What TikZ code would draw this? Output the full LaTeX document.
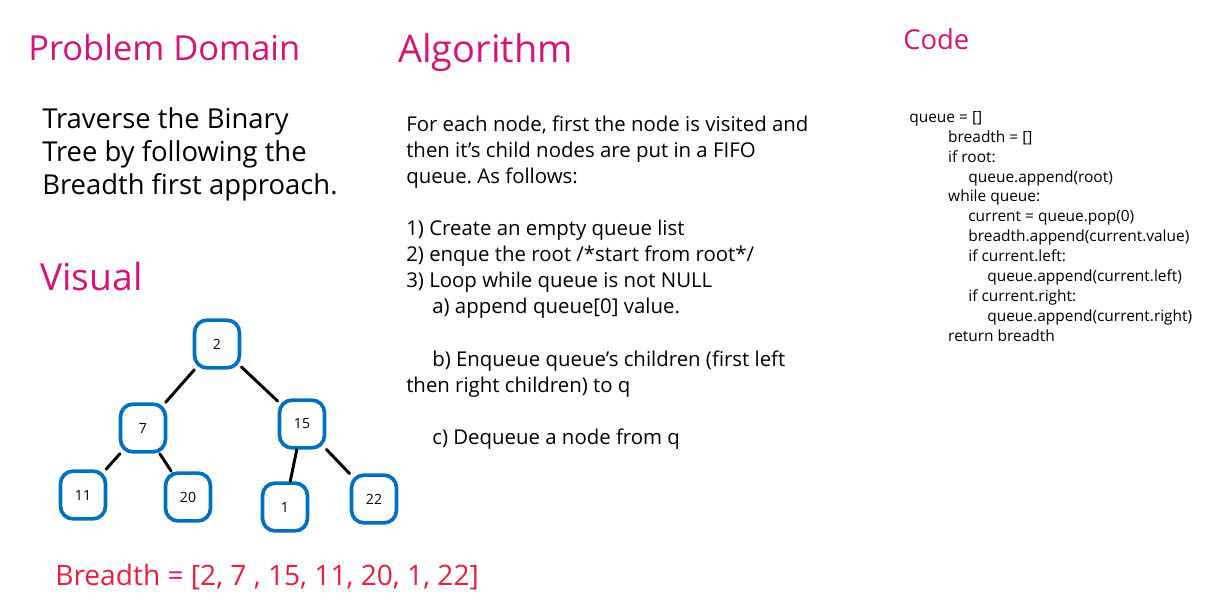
\documentclass[tikz,border=0pt]{standalone}
\usepackage{fontspec}
\setmainfont{Open Sans}
\frenchspacing
\definecolor{titlepink}{RGB}{214,20,120}
\definecolor{treeblue}{RGB}{0,112,192}
\definecolor{listred}{RGB}{232,30,60}
\tikzset{
  heading/.style={anchor=base west,inner sep=0pt,text=titlepink},
  bodytext/.style={anchor=north west,inner sep=0pt,align=left},
  treenode/.style={draw=treeblue,line width=2.6pt,rounded corners=9pt,minimum width=32pt,minimum height=34pt,inner sep=0pt,font=\fontsize{10}{12}\selectfont},
  treeedge/.style={line width=2.1pt,line cap=round}
}
\begin{document}
	\begin{tikzpicture}[x=0.025cm,y=-0.025cm]
		\useasboundingbox (0,0) rectangle (1214,605);
		% headings
		\node[heading,font=\fontsize{24.5}{28}\selectfont] (probtitle) at (28,60) {Problem Domain};
		\node[heading,font=\fontsize{27}{30}\selectfont] (algotitle) at (398,62) {Algorithm};
		\node[heading,font=\fontsize{19.5}{24}\selectfont] (codetitle) at (903,49) {Code};
		\node[heading,font=\fontsize{26.5}{30}\selectfont] (vistitle) at (40,290) {Visual};
		% problem domain
		\node[bodytext,font=\fontsize{19.5}{23.5}\selectfont] (probtext) at (42,107)
		{Traverse the Binary\\Tree by following the\\Breadth first approach.};
		% algorithm
		\node[bodytext,font=\fontsize{14.5}{18.5}\selectfont] (algotext) at (406,116)
		{For each node, first the node is visited and\\
		then it’s child nodes are put in a FIFO\\
		queue. As follows:\\[18.5pt]
		1) Create an empty queue list\\
		2) enque the root /*start from root*/\\
		3) Loop while queue is not NULL\\
		\hspace*{18.5pt}a) append queue[0] value.\\[18.5pt]
		\hspace*{18.5pt}b) Enqueue queue's children (first left\\
		then right children) to q\\[18.5pt]
		\hspace*{18.5pt}c) Dequeue a node from q};
		% code
		\node[bodytext,font=\fontsize{11}{14.16}\selectfont] (codetext) at (909,111)
		{queue = []\\
		\hspace*{27.7pt}breadth = []\\
		\hspace*{27.7pt}if root:\\
		\hspace*{42pt}queue.append(root)\\
		\hspace*{27.7pt}while queue:\\
		\hspace*{42pt}current = queue.pop(0)\\
		\hspace*{42pt}breadth.append(current.value)\\
		\hspace*{42pt}if current.left:\\
		\hspace*{55.5pt}queue.append(current.left)\\
		\hspace*{42pt}if current.right:\\
		\hspace*{55.5pt}queue.append(current.right)\\
		\hspace*{27.7pt}return breadth};
		% tree
		\node[treenode] (n2) at (217,344) {2};
		\node[treenode] (n7) at (143,428) {7};
		\node[treenode] (n15) at (302,424) {15};
		\node[treenode] (n11) at (83,495) {11};
		\node[treenode] (n20) at (188,497) {20};
		\node[treenode] (n1) at (285,507) {1};
		\node[treenode] (n22) at (374,499) {22};
		\draw[treeedge] (n2) -- (n7);
		\draw[treeedge] (n2) -- (n15);
		\draw[treeedge] (n7) -- (n11);
		\draw[treeedge] (n7) -- (n20);
		\draw[treeedge] (n15) -- (n1);
		\draw[treeedge] (n15) -- (n22);
		% result
		\node[heading,text=listred,font=\fontsize{20}{24}\selectfont] (result) at (55,585)
		{Breadth = [2, 7 , 15, 11, 20, 1, 22]};
	\end{tikzpicture}
\end{document}
